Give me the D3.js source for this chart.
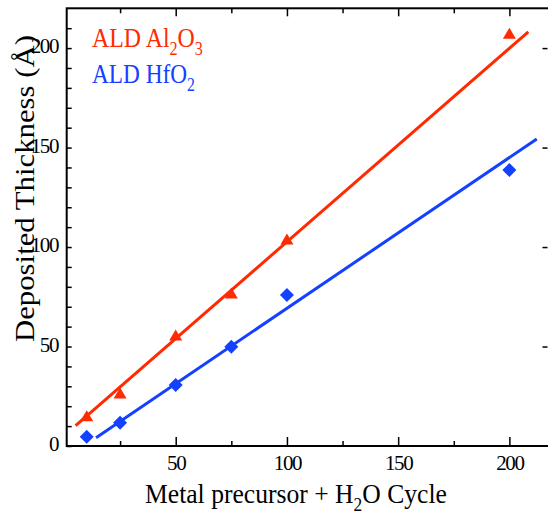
<!DOCTYPE html>
<html>
<head>
<meta charset="utf-8">
<script src="https://cdn.jsdelivr.net/npm/d3@7"></script>
<style>
  body { margin: 0; background: #fff; }
  svg { display: block; }
  text { font-family: "Liberation Serif", "Times New Roman", serif; }
</style>
</head>
<body>
<svg width="548" height="515"></svg>
<script>
// data
const cycles = [10, 25, 50, 75, 100, 200];
const al2o3 = [15.2, 26.6, 55.8, 76.9, 104, 207.4];
const hfo2 = [4.7, 11.7, 30.7, 49.9, 75.9, 138.7];
// drawn fit lines (start / end points, as shown)
const al2o3Fit = [[5, 10.2], [208.5, 208.2]];
const hfo2Fit = [[14.2, 4.2], [212.3, 154.3]];

const xMajor = [50, 100, 150, 200];
const xMinor = [25, 75, 125, 175];
const yMajor = [0, 50, 100, 150, 200];
const yMinor = [10, 20, 30, 40, 60, 70, 80, 90, 110, 120, 130, 140, 160, 170, 180, 190, 210];

const RED = "#ff2a00", BLUE = "#1440ff";

const svg = d3.select("svg");
const pLeft = 66.7, pRight = 549, pTop = 8.3, pBottom = 446;

const x = d3.scaleLinear().domain([1, 217.8]).range([pLeft, pRight]);
const y = d3.scaleLinear().domain([0, 220]).range([pBottom, pTop]);

// ticks
function ticks(axis, tx, ty) {
  const g = svg.append("g").attr("transform", `translate(${tx},${ty})`).call(axis);
  g.select(".domain").remove();
  g.selectAll("line").attr("stroke", "#000").attr("stroke-width", 1.5);
  return g;
}

const xb = ticks(d3.axisBottom(x).tickValues(xMajor).tickSize(-9).tickPadding(9), 0, pBottom);
ticks(d3.axisBottom(x).tickValues(xMinor).tickSize(-5).tickFormat(""), 0, pBottom);
ticks(d3.axisTop(x).tickValues(xMajor).tickSize(-8).tickFormat(""), 0, pTop);
ticks(d3.axisTop(x).tickValues(xMinor).tickSize(-5).tickFormat(""), 0, pTop);

const yl = ticks(d3.axisLeft(y).tickValues(yMajor).tickSize(-5).tickPadding(8.7), pLeft, 0);
ticks(d3.axisLeft(y).tickValues(yMinor).tickSize(-5).tickFormat(""), pLeft, 0);
ticks(d3.axisRight(y).tickValues(yMajor.slice(1)).tickSize(-5).tickFormat(""), 547.5, 0);

[xb, yl].forEach(g => g.selectAll("text")
  .attr("fill", "#000")
  .style("font-family", '"Liberation Serif", "Times New Roman", serif')
  .style("font-size", "21px")
  .style("letter-spacing", "-1.4px"));
yl.selectAll("text").attr("dy", "0.22em");

// frame
svg.append("rect")
  .attr("x", pLeft).attr("y", pTop)
  .attr("width", pRight - pLeft).attr("height", pBottom - pTop)
  .attr("fill", "none").attr("stroke", "#000").attr("stroke-width", 2);

// fit lines
const line = d3.line().x(d => x(d[0])).y(d => y(d[1]));
svg.append("path").attr("d", line(al2o3Fit)).attr("stroke", RED).attr("stroke-width", 3).attr("fill", "none");
svg.append("path").attr("d", line(hfo2Fit)).attr("stroke", BLUE).attr("stroke-width", 3).attr("fill", "none");

// markers
const tri = "M0,-5.5L6.5,5.5L-6.5,5.5Z";
const dia = "M0,-7L7,0L0,7L-7,0Z";
svg.append("g").selectAll("path").data(cycles).join("path")
  .attr("d", tri).attr("fill", RED)
  .attr("transform", (d, i) => `translate(${x(d)},${y(al2o3[i])})`);
svg.append("g").selectAll("path").data(cycles).join("path")
  .attr("d", dia).attr("fill", BLUE)
  .attr("transform", (d, i) => `translate(${x(d)},${y(hfo2[i])})`);

// text with subscripts, squeezed horizontally to the width seen in the picture
function chem(px, py, color, parts, width) {
  const g = svg.append("g");
  const el = g.append("text").attr("fill", color).style("font-size", "28px");
  let shift = 0;
  parts.forEach(p => {
    const want = p.sub ? 8 : 0;
    const ts = el.append("tspan").attr("dy", want - shift).text(p.t);
    if (p.sub) ts.style("font-size", "19px");
    shift = want;
  });
  const w = el.node().getBBox().width;
  g.attr("transform", `translate(${px},${py}) scale(${width / w},1)`);
  return g;
}
chem(92, 47, RED, [{t: "ALD Al"}, {t: "2", sub: true}, {t: "O"}, {t: "3", sub: true}], 111);
chem(92, 83, BLUE, [{t: "ALD HfO"}, {t: "2", sub: true}], 103);

// axis titles
chem(145, 503, "#000", [{t: "Metal precursor + H"}, {t: "2", sub: true}, {t: "O Cycle"}], 302);

const yt = svg.append("text")
  .attr("fill", "#000")
  .style("font-size", "28px")
  .text("Deposited Thickness (Å)");
const yw = yt.node().getBBox().width;
yt.attr("transform", `translate(34,342) rotate(-90) scale(${307 / yw},1)`);
</script>
</body>
</html>
